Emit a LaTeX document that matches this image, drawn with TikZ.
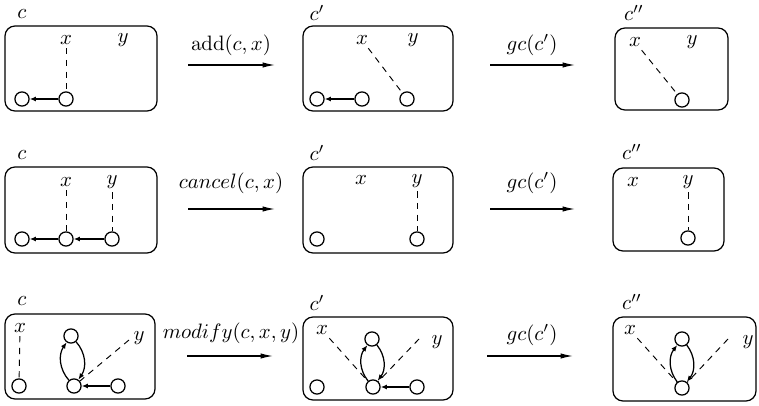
\documentclass[tikz,border=0pt]{standalone}
\usetikzlibrary{arrows.meta}
\begin{document}
\begin{tikzpicture}[x=0.48pt,y=-0.48pt, line width=0.6pt,
  box/.style={draw, rounded corners=4.8pt},
  st/.style={draw, circle, minimum size=6.8pt, inner sep=0pt},
  lbl/.style={inner sep=1.5pt},
  ptr/.style={-{Latex[length=3pt,width=2.4pt]}},
  dsh/.style={line width=0.45pt, dash pattern=on 3pt off 2.6pt},
  trans/.style={-{Latex[length=6pt,width=2.6pt]}},
]
\useasboundingbox (0,0) rectangle (759,406);

% ---------------- Row 1 ----------------
\draw[box] (5,26) rectangle (157,111);
\node (c1a) at (22,14) {$c$};
\node[lbl] (x1a) at (66,40) {$x$};
\node[lbl] (y1a) at (123,40) {$y$};
\node[st] (a11) at (22,99) {};
\node[st] (a12) at (66,99) {};
\draw[dsh] (x1a) -- (a12);
\draw[ptr] (a12) -- (a11);

\coordinate (t1s) at (188,65); \coordinate (t1e) at (275,65);
\draw[trans] (t1s) -- (t1e);
\node (t1l) at (231,45) {$\mathrm{add}(c,x)$};

\draw[box] (303,26) rectangle (453,111);
\node (c1b) at (317,13) {$c'$};
\node[lbl] (x1b) at (362,40) {$x$};
\node[lbl] (y1b) at (413,40) {$y$};
\node[st] (b11) at (317,99) {};
\node[st] (b12) at (362,99) {};
\node[st] (b13) at (407,99) {};
\draw[ptr] (b12) -- (b11);
\draw[dsh] (x1b) -- (b13);

\coordinate (t2s) at (490,65); \coordinate (t2e) at (575,65);
\draw[trans] (t2s) -- (t2e);
\node (t2l) at (532,45) {$gc(c')$};

\draw[box] (615,28) rectangle (728,110);
\node (c1c) at (634,13) {$c''$};
\node[lbl] (x1c) at (635,42) {$x$};
\node[lbl] (y1c) at (692,42) {$y$};
\node[st] (c11) at (682,100) {};
\draw[dsh] (x1c) -- (c11);

% ---------------- Row 2 ----------------
\draw[box] (5,167) rectangle (157,253);
\node (c2a) at (22,155) {$c$};
\node[lbl] (x2a) at (66,182) {$x$};
\node[lbl] (y2a) at (112,182) {$y$};
\node[st] (a21) at (22,239) {};
\node[st] (a22) at (66,239) {};
\node[st] (a23) at (112,239) {};
\draw[dsh] (x2a) -- (a22);
\draw[dsh] (y2a) -- (a23);
\draw[ptr] (a23) -- (a22);
\draw[ptr] (a22) -- (a21);

\coordinate (t3s) at (188,209); \coordinate (t3e) at (275,209);
\draw[trans] (t3s) -- (t3e);
\node (t3l) at (231,183) {$cancel(c,x)$};

\draw[box] (303,167) rectangle (453,253);
\node (c2b) at (317,153) {$c'$};
\node[lbl] (x2b) at (361,180) {$x$};
\node[lbl] (y2b) at (417,181) {$y$};
\node[st] (b21) at (317,239) {};
\node[st] (b22) at (417,239) {};
\draw[dsh] (y2b) -- (b22);

\coordinate (t4s) at (490,209); \coordinate (t4e) at (575,209);
\draw[trans] (t4s) -- (t4e);
\node (t4l) at (532,183) {$gc(c')$};

\draw[box] (613,168) rectangle (724,251);
\node (c2c) at (632,152) {$c''$};
\node[lbl] (x2c) at (633,182) {$x$};
\node[lbl] (y2c) at (688,182) {$y$};
\node[st] (c21) at (688,238) {};
\draw[dsh] (y2c) -- (c21);

% ---------------- Row 3 ----------------
\draw[box] (5,314) rectangle (155,399);
\node (c3a) at (22,301) {$c$};
\node[lbl] (x3a) at (20,328) {$x$};
\node[lbl] (y3a) at (139,338) {$y$};
\coordinate (y3ae) at (129,340);
\node[st] (a31) at (19,386) {};
\node[st] (a32) at (71,336) {};
\node[st] (a33) at (74,386) {};
\node[st] (a34) at (118,386) {};
\draw[dsh] (x3a) -- (a31);
\draw[dsh] (y3ae) -- (a33);
\draw[ptr] (a34) -- (a33);
\draw[ptr] (a33) to[bend left=38] (a32);
\draw[ptr] (a32) to[bend left=38] (a33);

\coordinate (t5s) at (187,356); \coordinate (t5e) at (273,356);
\draw[trans] (t5s) -- (t5e);
\node (t5l) at (231,333) {$modify(c,x,y)$};

\draw[box] (303,317) rectangle (453,400);
\node (c3b) at (317,303) {$c'$};
\node[lbl] (x3b) at (322,330) {$x$};
\node[lbl] (y3b) at (437,342) {$y$};
\coordinate (y3be) at (419,339);
\node[st] (b31) at (317,387) {};
\node[st] (b32) at (372,339) {};
\node[st] (b33) at (373,387) {};
\node[st] (b34) at (417,387) {};
\draw[dsh] (x3b) -- (b33);
\draw[dsh] (y3be) -- (b33);
\draw[ptr] (b34) -- (b33);
\draw[ptr] (b33) to[bend left=38] (b32);
\draw[ptr] (b32) to[bend left=38] (b33);

\coordinate (t6s) at (487,356); \coordinate (t6e) at (573,356);
\draw[trans] (t6s) -- (t6e);
\node (t6l) at (532,335) {$gc(c')$};

\draw[box] (613,317) rectangle (756,401);
\node (c3c) at (632,302) {$c''$};
\node[lbl] (x3c) at (630,330) {$x$};
\node[lbl] (y3c) at (748,342) {$y$};
\coordinate (y3ce) at (728,339);
\node[st] (c32) at (682,339) {};
\node[st] (c33) at (682,388) {};
\draw[dsh] (x3c) -- (c33);
\draw[dsh] (y3ce) -- (c33);
\draw[ptr] (c33) to[bend left=38] (c32);
\draw[ptr] (c32) to[bend left=38] (c33);
\end{tikzpicture}
\end{document}
